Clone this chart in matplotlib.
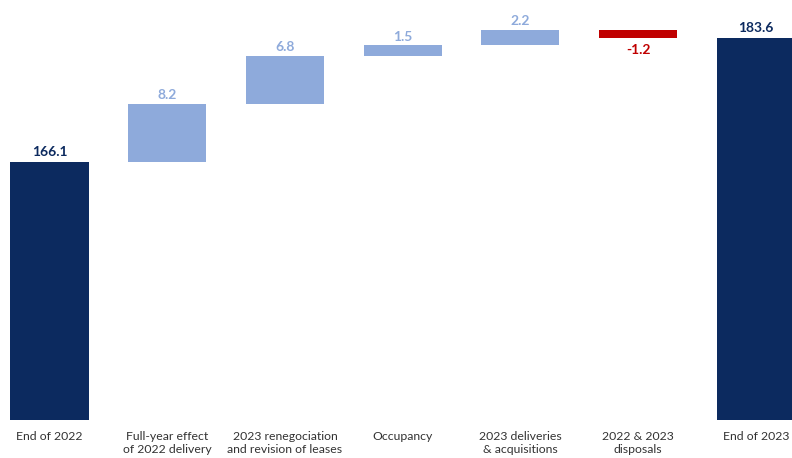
"""
Waterfall: rental income bridge, end of 2022 to end of 2023.
"""

import numpy as np
from matplotlib import pyplot as plt

categories = ['End of 2022', 'Full-year effect\nof 2022 delivery',
              '2023 renegociation\nand revision of leases', 'Occupancy',
              '2023 deliveries\n& acquisitions', '2022 & 2023\ndisposals', 'End of 2023']
start_value = 166.1
deltas = [8.2, 6.8, 1.5, 2.2, -1.2]
end_value = 183.6

NAVY = '#0c2a5f'
LIGHT = '#8eaadb'
RED = '#c00000'
GREY = '#333333'


def main():
    plt.rcParams['font.family'] = ['Lato', 'DejaVu Sans']

    fig = plt.figure(figsize=(7.92, 4.58), dpi=100)
    ax = fig.add_axes([0, 0.084, 1, 0.916])

    x = np.arange(len(categories))
    width = 0.663

    # totals
    ax.bar([x[0], x[-1]], [start_value, end_value], width=width, color=NAVY)
    ax.annotate(f'{start_value:.1f}', (x[0], start_value), xytext=(0, 3),
                textcoords='offset points', ha='center', va='bottom',
                fontsize=10, fontweight='bold', color=NAVY)
    ax.annotate(f'{end_value:.1f}', (x[-1], end_value), xytext=(0, 3),
                textcoords='offset points', ha='center', va='bottom',
                fontsize=10, fontweight='bold', color=NAVY)

    # steps
    level = start_value
    for i, d in enumerate(deltas, start=1):
        col = LIGHT if d >= 0 else RED
        ax.bar(x[i], d, bottom=level, width=width, color=col)
        if d >= 0:
            ax.annotate(f'{d:.1f}', (x[i], level + d), xytext=(0, 2),
                        textcoords='offset points', ha='center', va='bottom',
                        fontsize=10, fontweight='bold', color=col)
        else:
            ax.annotate(f'{d:.1f}', (x[i], level + d), xytext=(0, -4),
                        textcoords='offset points', ha='center', va='top',
                        fontsize=10, fontweight='bold', color=col)
        level += d

    ax.set_xlim(-0.4206, 6.308)
    ax.set_ylim(129.8, 189.0)
    ax.set_xticks(x)
    ax.set_xticklabels(categories, fontsize=8.8, color=GREY, linespacing=1.3, va='top')
    ax.tick_params(axis='x', length=0, pad=8)
    ax.set_yticks([])
    for s in ax.spines.values():
        s.set_visible(False)

    fig.savefig('out.png', dpi=100)


if __name__ == '__main__':
    main()
